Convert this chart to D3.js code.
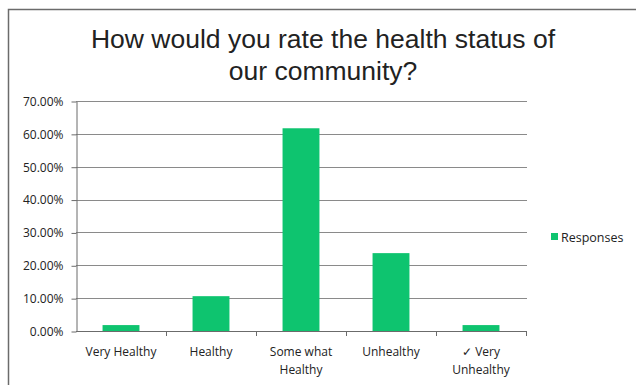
<!DOCTYPE html>
<html><head><meta charset="utf-8">
<script src="https://cdn.jsdelivr.net/npm/d3@7"></script>
<style>body{margin:0;background:#fff}svg{display:block}</style>
</head><body>
<script>
const categories = ["Very Healthy", "Healthy", "Somewhat Healthy", "Unhealthy", "✓ Very Unhealthy"];
const categoryLines = [["Very Healthy"], ["Healthy"], ["Some what", "Healthy"], ["Unhealthy"], ["✓ Very", "Unhealthy"]];
const responses = [0.018, 0.106, 0.617, 0.237, 0.018];
const yTicks = [0, 0.1, 0.2, 0.3, 0.4, 0.5, 0.6, 0.7];
const seriesName = "Responses";
const titleLines = ["How would you rate the health status of", "our community?"];

const W = 636, H = 385;
const svg = d3.select("body").append("svg").attr("width", W).attr("height", H);

// frame
svg.append("path").attr("d", "M8.5,385 L8.5,9.5 L636,9.5").attr("fill", "none").attr("stroke", "#6b6b6b").attr("stroke-width", 1.5);

// title
svg.append("text").attr("x", 323).attr("y", 48).attr("text-anchor", "middle")
  .attr("font-family", "Liberation Sans, Arial, sans-serif").attr("font-size", 26.5).attr("fill", "#222")
  .selectAll("tspan").data(titleLines).join("tspan").attr("x", 323).attr("dy", (d, i) => i ? 32 : 0).text(d => d);

const x = d3.scaleBand().domain(categories).range([76, 526]).paddingInner(0.59).paddingOuter(0.295);
const y = d3.scaleLinear().domain([0, 0.7]).range([331, 101]);

// gridlines
svg.append("g").selectAll("line").data(yTicks.filter(d => d > 0)).join("line")
  .attr("x1", 76).attr("x2", 527).attr("y1", d => Math.round(y(d)) + 0.5).attr("y2", d => Math.round(y(d)) + 0.5)
  .attr("stroke", "#8a8a8a").attr("stroke-width", 1);

// bars
svg.append("g").selectAll("rect").data(responses).join("rect")
  .attr("x", (d, i) => x(categories[i])).attr("width", x.bandwidth())
  .attr("y", d => y(d)).attr("height", d => y(0) - y(d)).attr("fill", "#0ec46f");

// y axis
const yAxis = d3.axisLeft(y).tickValues(yTicks).tickFormat(d3.format(".2%")).tickSizeInner(5).tickSizeOuter(0);
const gy = svg.append("g").attr("transform", "translate(76.5,0.5)").call(yAxis);
gy.select(".domain").attr("stroke", "#6b6b6b");
gy.selectAll(".tick line").attr("stroke", "#6b6b6b");
gy.selectAll("text").attr("font-family", "Open Sans, Lato, sans-serif").attr("font-size", 12).attr("fill", "#222").attr("x", -13);

// x axis
const boundaries = categories.map((c, i) => 76 + (i + 1) * 90);
const gx = svg.append("g");
gx.append("line").attr("x1", 76).attr("x2", 527).attr("y1", 331.5).attr("y2", 331.5).attr("stroke", "#6b6b6b");
gx.selectAll("line.t").data(boundaries).join("line").attr("class", "t")
  .attr("x1", d => d + 0.5).attr("x2", d => d + 0.5).attr("y1", 331).attr("y2", 336).attr("stroke", "#6b6b6b");
gx.selectAll("text").data(categories).join("text")
  .attr("text-anchor", "middle").attr("font-family", "Open Sans, Lato, sans-serif").attr("font-size", 12).attr("fill", "#222")
  .attr("y", 356)
  .each(function(d, i) {
    const cx = x(d) + x.bandwidth() / 2;
    d3.select(this).selectAll("tspan").data(categoryLines[i]).join("tspan")
      .attr("x", cx).attr("dy", (t, j) => j ? 18 : 0).text(t => t);
  });

// legend
svg.append("rect").attr("x", 551).attr("y", 233).attr("width", 7).attr("height", 7).attr("fill", "#0ec46f");
svg.append("text").attr("x", 561).attr("y", 241.5).attr("font-family", "Open Sans, Lato, sans-serif").attr("font-size", 12.5).attr("fill", "#222").text(seriesName);
</script>
</body></html>
